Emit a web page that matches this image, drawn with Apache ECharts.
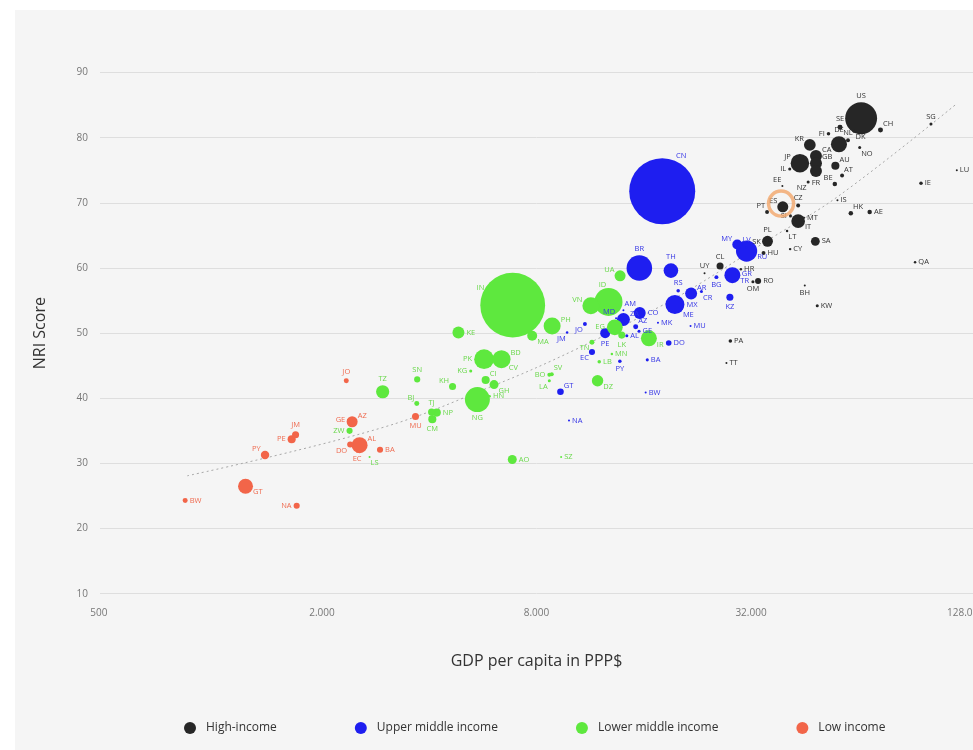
<!DOCTYPE html>
<html>
<head>
<meta charset="utf-8">
<script src="https://cdn.jsdelivr.net/npm/echarts@6/dist/echarts.min.js"></script>
<style>
  html, body { margin: 0; padding: 0; background: #fff; }
  #chart { width: 973px; height: 750px; }
</style>
</head>
<body>
<div id="chart"></div>
<script>
// x axis: GDP per capita (PPP$), log scale in steps of x4 from 500
const xTicks = [500, 2000, 8000, 32000, 128000];
const yMin = 10, yMax = 90, yStep = 10;

// High-income
const highCodes = ['US','SE','CH','FI','DE','NL','DK','NO','KR','CA','GB','FR','JP','IL','AU','AT','BE','NZ','EE','IS','ES','CZ','PT','SI','MT','IT','LT','PL','SK','HU','CY','SA','HK','AE','QA','IE','LU','SG','CL','UY','HR','RO','OM','BH','KW','PA','TT'];
const highGdp = [65200,56900,73900,52800,56500,59900,62300,64600,46800,48700,48700,48700,43900,41100,55200,57650,55000,46300,39200,55950,39300,43400,35500,41300,45100,43400,40400,35600,34900,34700,41200,48500,61000,68900,92400,96000,121000,102400,26200,23700,29970,33500,32400,45300,49100,28000,27300];
const highNri = [83.0,81.6,81.2,80.6,79.0,79.6,81.0,78.5,78.9,77.2,76.1,74.9,76.1,75.2,75.7,74.2,72.9,73.2,72.6,70.4,69.4,69.6,68.6,68.0,67.7,67.2,65.7,64.1,64.0,62.3,62.9,64.1,68.4,68.6,60.9,73.0,75.0,82.1,60.3,59.2,59.8,58.0,57.9,57.3,54.2,48.8,45.4];
const highPop = [327,8,8,4,83,5,3,3,44,46,46,46,110,3,21,5,6.5,3,1.3,1.3,39,5,5,3,1.3,60,2,38,3,5,2,25,6.5,6.5,2,4,1.3,3,16,1.3,2,12,3,1.3,3,4,1.3];

// Upper middle income
const upperCodes = ['CN','BR','TH','MY','LV','RU','TR','GR','BG','KZ','RS','AR','CR','MX','ME','MK','MU','DO','BA','PY','BW','CO','AM','ZA','MD','AZ','GE','AL','PE','JO','JM','EC','GT','NA'];
const upperGdp = [18030,15550,19070,29280,31090,31100,28370,29530,25590,27920,19990,21730,23230,19570,20470,17540,21650,18800,16370,13710,16200,15590,14030,14030,13380,15190,15520,14340,12470,10940,9750,11450,9340,9870];
const upperNri = [71.8,60.0,59.6,63.6,63.2,62.6,58.9,59.1,58.6,55.5,56.5,56.1,56.4,54.4,53.7,51.6,51.1,48.5,45.9,45.7,40.9,53.1,53.5,52.1,52.3,51.0,50.3,49.6,50.0,51.4,50.1,47.1,41.0,36.6];
const upperPop = [1400,210,69,32,2,145,82,2,5,16,4,46,3,116,1.3,1.3,1.3,10,3,4,1.3,46,1.3,54,1.3,8,3,3,32,5,2,12,14,1.3];

// Lower middle income
const lowerCodes = ['IN','ID','VN','UA','PH','MA','KE','EG','LK','TN','MN','LB','BD','PK','CV','KG','CI','GH','HN','NG','SV','BO','LA','DZ','KH','SN','TZ','BJ','TJ','NP','CM','ZW','LS','AO','SZ','IR'];
const lowerGdp = [6860,12740,11370,13730,8850,7780,4830,13270,13880,11450,13020,12000,6380,5700,6640,5230,5760,6080,5910,5460,8830,8690,8690,11870,4650,3700,2960,3690,4060,4200,4080,2390,2720,6840,9380,16540];
const lowerNri = [54.3,54.8,54.2,58.8,51.1,49.6,50.1,50.9,49.7,48.6,46.8,45.6,46.0,46.0,45.6,44.2,42.8,42.1,40.3,39.8,43.7,43.6,42.7,42.7,41.8,42.9,41.0,39.2,37.9,37.8,36.8,35.0,31.0,30.6,31.0,49.2];
const lowerPop = [1350,252,93,39,93,32,46,80,16,8,2,4,105,125,1.3,3,21,26,2,200,5,5,3,42,16,12,56,8,16,21,21,12,1.3,26,1.3,82];

// Low income
const lowCodes = ['JO','AZ','GE','JM','PE','PY','DO','AL','EC','BA','MU','GT','BW','NA'];
const lowGdp = [2340,2430,2370,1686,1644,1384,2400,2550,2510,2910,3660,1220,826,1698];
const lowNri = [42.7,36.4,36.7,34.4,33.7,31.3,32.9,32.8,31.8,32.1,37.2,26.5,24.3,23.5];
const lowPop = [8,39,1.3,16,21,23,12,82,1.3,12,16,72,8,12];

// dotted trend curve
const trendGdp = [837, 2913, 6030, 10220, 17650, 22830, 36510, 56180, 120800];
const trendNri = [28.1, 35.4, 41.9, 47.4, 54.0, 57.5, 64.6, 71.0, 85.2];

// label placement (style only)
const highLabel = ['t','t','tr','l','t','t','br','br','tl','tr','tr','b','tl','l','tr','tr','tl','bl','tl','r','tl','t','tl','l','r','br','br','t','l','r','r','r','tr','r','r','r','r','t','t','t','r','r','b','b','r','r','r'];
const upperLabel = ['t','t','t','tl','t','br','br','r','b','b','t','tr','br','r','br','r','r','r','r','b','r','r','tr','tr','tl','tr','r','r','b','bl','bl','bl','tr','r'];
const lowerLabel = ['l','t','tl','tl','tr','br','r','l','b','bl','r','r','tr','l','br','l','tr','br','r','b','tr','l','bl','br','tl','t','t','tl','t','r','b','l','br','r','r','br'];
const lowLabel = ['t','tr','l','t','l','tl','bl','tr','b','r','b','br','r','l'];

const LABEL_POS = {
  t: ['top', 0, 0], b: ['bottom', 0, 0], l: ['left', 0, 0], r: ['right', 0, 0],
  tl: ['left', 2, -6], tr: ['right', -2, -6], bl: ['left', 2, 6], br: ['right', -2, 6]
};
const LABEL_OVERRIDE = { CN: ['top', 19, 4], IN: ['left', 6, -17], ID: ['top', -6, 3] };

const X_BASE = 500;
function toAxis(gdp) { return Math.log(gdp / X_BASE) / Math.log(4); }
function fmtThousands(v) { return String(v).replace(/\B(?=(\d{3})+(?!\d))/g, '.'); }
function bubble(pop) { return Math.max(2, 1.764 * Math.sqrt(pop)); }

function buildSeries(name, color, labelColor, codes, gdp, nri, pop, labels) {
  const idx = codes.map((c, i) => i).sort((a, b) => pop[b] - pop[a]);
  return {
    name: name,
    type: 'scatter',
    data: idx.map(i => {
      const p = LABEL_OVERRIDE[codes[i]] || LABEL_POS[labels[i]];
      return {
        name: codes[i],
        value: [toAxis(gdp[i]), nri[i], pop[i]],
        label: { position: p[0], offset: [p[1], p[2]] }
      };
    }),
    symbolSize: v => bubble(v[2]),
    itemStyle: { color: color, opacity: 1 },
    label: {
      show: true, formatter: '{b}', color: labelColor,
      fontSize: 7.5, distance: 2, fontFamily: 'Open Sans'
    },
    emphasis: { disabled: true },
    z: 3
  };
}

const chart = echarts.init(document.getElementById('chart'), null, { renderer: 'canvas' });
const esIdx = highCodes.indexOf('ES');

// plot spans x = 100..973; one x4 step is ~214.5px, 500 sits ~7.5px right of the plot edge
const PX_PER_STEP = 214.5;
const xMin = -7.5 / PX_PER_STEP;
const xMax = xMin + 873 / PX_PER_STEP;

chart.setOption({
  backgroundColor: '#f5f5f5',
  animation: false,
  textStyle: { fontFamily: 'Open Sans' },
  graphic: [
    { type: 'rect', left: 0, top: 0, shape: { width: 15, height: 750 }, style: { fill: '#fff' }, z: 100 },
    { type: 'rect', left: 0, top: 0, shape: { width: 973, height: 10 }, style: { fill: '#fff' }, z: 100 }
  ],
  grid: { left: 100, right: 0, top: 72.6, bottom: 156.3, containLabel: false, outerBoundsMode: 'none' },
  legend: {
    data: ['High-income', 'Upper middle income', 'Lower middle income', 'Low income'],
    left: 179, top: 717,
    icon: 'circle', itemWidth: 12, itemHeight: 12, itemGap: 78,
    textStyle: { color: '#333', fontSize: 12, padding: [0, 0, 0, 5] }
  },
  xAxis: {
    type: 'value',
    min: xMin,
    max: xMax,
    name: 'GDP per capita in PPP$',
    nameLocation: 'middle',
    nameGap: 60,
    nameTextStyle: { color: '#333', fontSize: 16 },
    axisLine: { show: false },
    axisTick: { show: false },
    splitLine: { show: false },
    axisLabel: {
      color: '#777', fontSize: 10, margin: 14,
      customValues: xTicks.map(toAxis),
      alignMinLabel: 'right',
      formatter: u => {
        const g = X_BASE * Math.pow(4, u);
        const t = xTicks.find(v => Math.abs(v - g) / v < 0.01);
        return t ? fmtThousands(t) : '';
      }
    }
  },
  yAxis: {
    type: 'value',
    min: yMin, max: yMax, interval: yStep,
    name: 'NRI Score',
    nameLocation: 'middle',
    nameGap: 52,
    nameTextStyle: { color: '#333', fontSize: 16 },
    axisLine: { show: false },
    axisTick: { show: false },
    axisLabel: { color: '#777', fontSize: 10, margin: 12 },
    splitLine: { lineStyle: { color: '#dedede', width: 1 } }
  },
  series: [
    {
      name: 'trend', type: 'line', smooth: 0.4, symbol: 'none', silent: true,
      data: trendGdp.map((g, i) => [toAxis(g), trendNri[i]]),
      lineStyle: { color: '#a8a8a8', width: 1, type: [2, 3] },
      z: 1
    },
    buildSeries('High-income', '#262626', '#333333', highCodes, highGdp, highNri, highPop, highLabel),
    buildSeries('Upper middle income', '#1e1ef0', '#3535e6', upperCodes, upperGdp, upperNri, upperPop, upperLabel),
    buildSeries('Lower middle income', '#5ee83e', '#6ad84c', lowerCodes, lowerGdp, lowerNri, lowerPop, lowerLabel),
    buildSeries('Low income', '#f26549', '#ef6b50', lowCodes, lowGdp, lowNri, lowPop, lowLabel),
    {
      name: 'highlight', type: 'scatter', silent: true,
      data: [[toAxis(highGdp[esIdx]) - 0.008, highNri[esIdx] + 0.5]],
      symbolSize: 25,
      itemStyle: { color: 'rgba(0,0,0,0)', borderColor: '#f3a66a', borderWidth: 3.5 },
      z: 4
    }
  ]
});
</script>
</body>
</html>
